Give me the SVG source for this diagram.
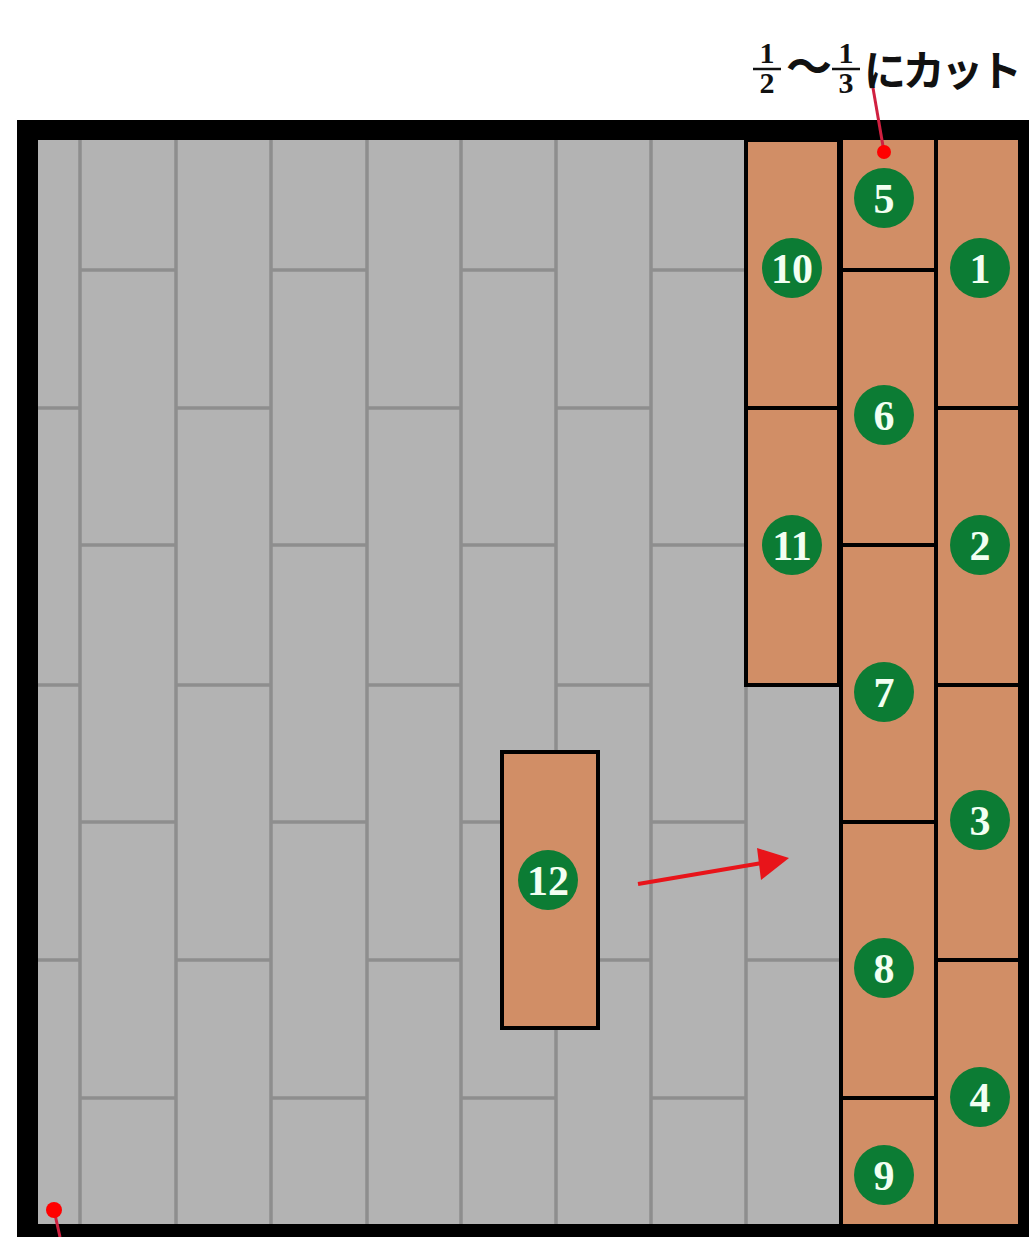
<svg xmlns="http://www.w3.org/2000/svg" width="1029" height="1237" viewBox="0 0 1029 1237">
<style>
.g{stroke:#8e8e8e;stroke-width:3.5;fill:none}
.t{fill:#d18e66;stroke:#000;stroke-width:4}
.c{fill:#0c7c34}
.n{font-family:"Liberation Serif",serif;font-weight:bold;font-size:42px;fill:#f2fff2;text-anchor:middle}
.lbl{font-family:"Liberation Serif","Noto Sans CJK JP",serif;font-weight:bold;fill:#111}
</style>
<rect width="1029" height="1237" fill="#fff"/>
<rect x="17" y="120" width="1012" height="1117" fill="#000"/>
<rect x="38" y="140" width="982" height="1084" fill="#b3b3b3"/>
<g id="grid">
<path class="g" d="M80,140V1224M176,140V1224M271,140V1224M367,140V1224M461,140V1224M556,140V1224M651,140V1224M746,685V1224"/>
<path class="g" d="M38,408H80M38,685H80M38,960H80
M80,270H176M80,545H176M80,822H176M80,1098H176
M176,408H271M176,685H271M176,960H271
M271,270H367M271,545H367M271,822H367M271,1098H367
M367,408H461M367,685H461M367,960H461
M461,270H556M461,545H556M461,822H556M461,1098H556
M556,408H651M556,685H651M556,960H651
M651,270H746M651,545H746M651,822H746M651,1098H746
M746,960H841"/>
</g>
<g id="tile10"><rect class="t" x="746" y="140" width="93" height="268"/><circle class="c" cx="792" cy="268" r="30"/><text class="n" x="792" y="283">10</text></g>
<g id="tile11"><rect class="t" x="746" y="408" width="93" height="277"/><circle class="c" cx="792" cy="545" r="30"/><text class="n" x="792" y="560">11</text></g>
<g id="tile5"><rect class="t" x="841" y="138" width="95" height="132"/><circle class="c" cx="884" cy="198" r="30"/><text class="n" x="884" y="213">5</text></g>
<g id="tile6"><rect class="t" x="841" y="270" width="95" height="275"/><circle class="c" cx="884" cy="415" r="30"/><text class="n" x="884" y="430">6</text></g>
<g id="tile7"><rect class="t" x="841" y="545" width="95" height="277"/><circle class="c" cx="884" cy="692" r="30"/><text class="n" x="884" y="707">7</text></g>
<g id="tile8"><rect class="t" x="841" y="822" width="95" height="276"/><circle class="c" cx="884" cy="968" r="30"/><text class="n" x="884" y="983">8</text></g>
<g id="tile9"><rect class="t" x="841" y="1098" width="95" height="128"/><circle class="c" cx="884" cy="1175" r="30"/><text class="n" x="884" y="1190">9</text></g>
<g id="tile1"><rect class="t" x="936" y="138" width="84" height="270"/><circle class="c" cx="980" cy="268" r="30"/><text class="n" x="980" y="283">1</text></g>
<g id="tile2"><rect class="t" x="936" y="408" width="84" height="277"/><circle class="c" cx="980" cy="545" r="30"/><text class="n" x="980" y="560">2</text></g>
<g id="tile3"><rect class="t" x="936" y="685" width="84" height="275"/><circle class="c" cx="980" cy="820" r="30"/><text class="n" x="980" y="835">3</text></g>
<g id="tile4"><rect class="t" x="936" y="960" width="84" height="266"/><circle class="c" cx="980" cy="1097" r="30"/><text class="n" x="980" y="1112">4</text></g>
<g id="tile12"><rect class="t" x="502" y="752" width="96" height="276"/><circle class="c" cx="548" cy="880" r="30"/><text class="n" x="548" y="895">12</text></g>
<g id="connectors">
<line x1="638" y1="884" x2="762" y2="863" stroke="#e8141a" stroke-width="4"/>
<polygon points="789,858 757,848 761,880" fill="#e8141a"/>
<line x1="873" y1="88" x2="884" y2="152" stroke="#d02040" stroke-width="3"/>
<circle cx="884" cy="152" r="7" fill="#f00"/>
<line x1="54" y1="1210" x2="60" y2="1237" stroke="#d02040" stroke-width="3"/>
<circle cx="54" cy="1210" r="8" fill="#f00"/>
</g>
<g id="label">
<text class="lbl" x="767" y="63" font-size="30" text-anchor="middle">1</text>
<line x1="753" y1="69" x2="781" y2="69" stroke="#111" stroke-width="2.5"/>
<text class="lbl" x="767" y="93" font-size="30" text-anchor="middle">2</text>
<text class="lbl" x="809" y="83" font-size="46" text-anchor="middle" font-family="'Noto Sans CJK JP',sans-serif">〜</text>
<text class="lbl" x="846" y="63" font-size="30" text-anchor="middle">1</text>
<line x1="832" y1="69" x2="860" y2="69" stroke="#111" stroke-width="2.5"/>
<text class="lbl" x="846" y="93" font-size="30" text-anchor="middle">3</text>
<text class="lbl" x="864" y="86" font-size="42" font-family="'Noto Sans CJK JP',sans-serif" textLength="158">にカット</text>
</g>
</svg>
